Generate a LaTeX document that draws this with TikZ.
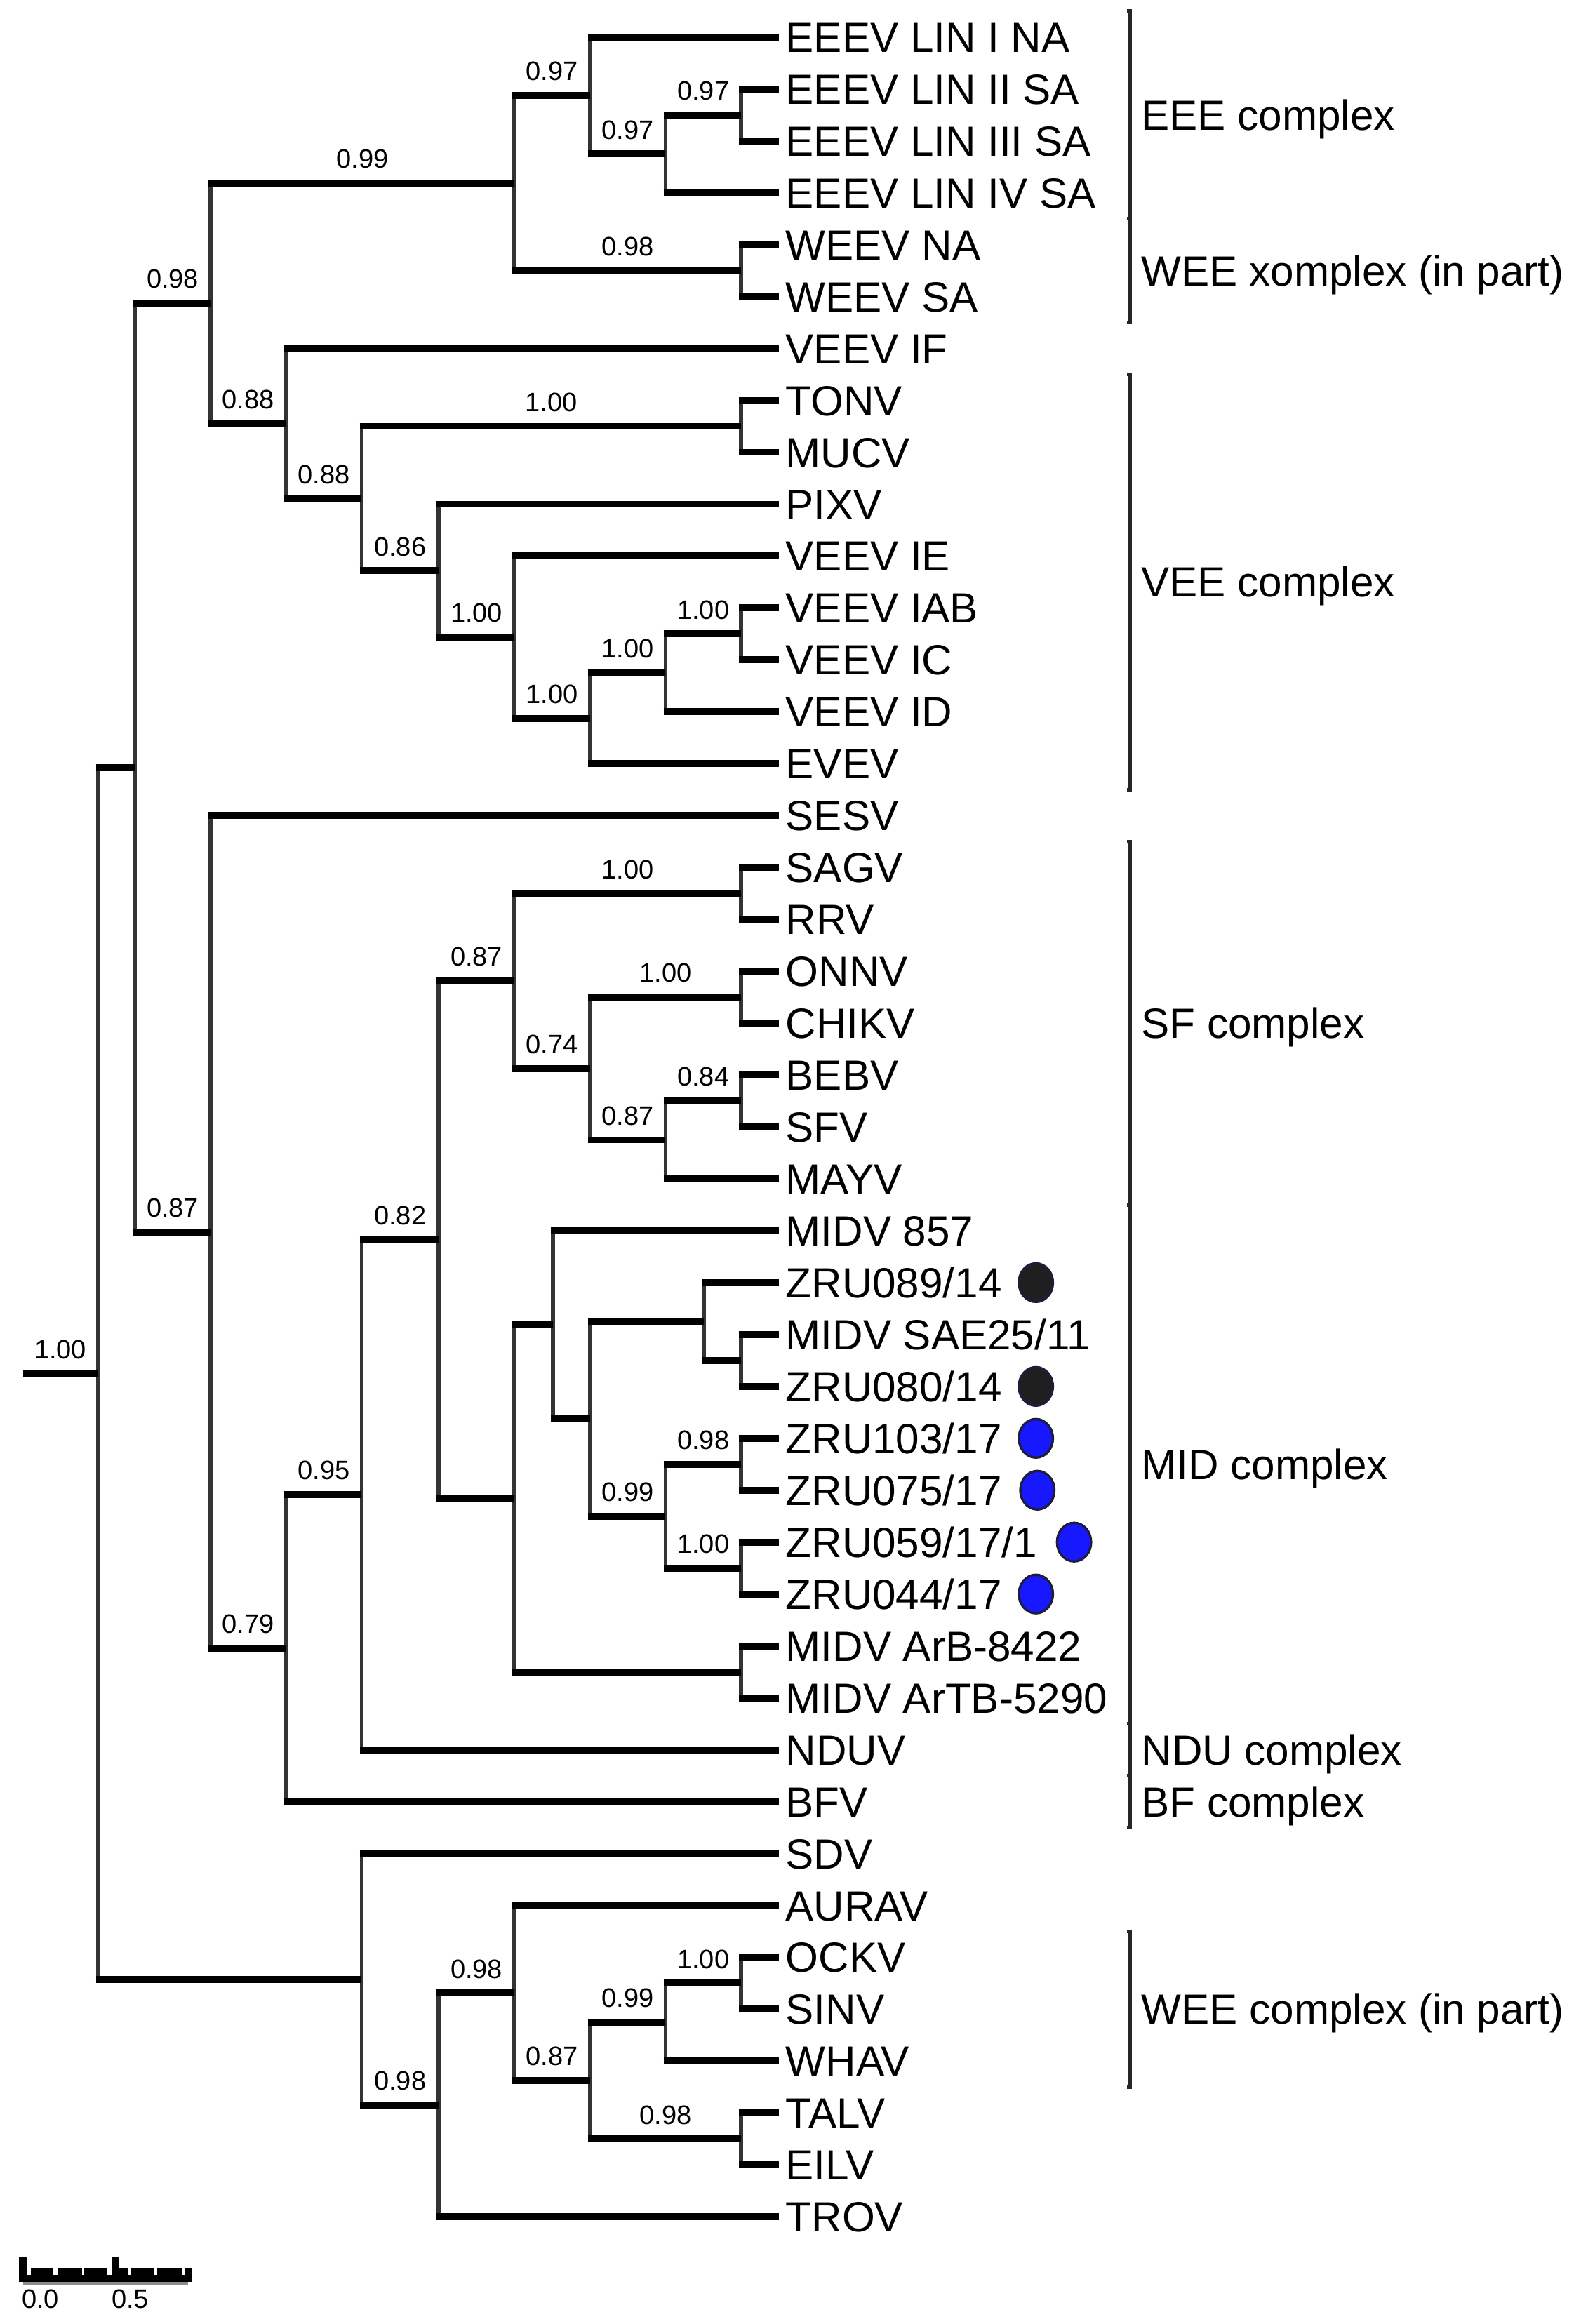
\documentclass[tikz,border=0pt]{standalone}
\usepackage{fontspec}
\setmainfont{Liberation Sans}
\usetikzlibrary{positioning,shapes.geometric}

\newcommand{\leaffont}{\fontsize{28.5}{30}\selectfont}
\newcommand{\suppfont}{\fontsize{18}{20}\selectfont}
\definecolor{dotblue}{RGB}{24,24,255}
\definecolor{dotrim}{RGB}{30,30,60}

\tikzset{
  hbr/.style={line width=4.7pt, shorten <=-1.3pt},
  vbr/.style={line width=2.6pt, black!80, shorten <=-2.35pt, shorten >=-2.35pt},
  leaf/.style={anchor=west, inner xsep=4.5pt, inner ysep=0pt, text height=20.4pt, text depth=0pt, font=\leaffont},
  cplx/.style={leaf},
  supp/.style={above=7.5pt, inner sep=0pt, font=\suppfont},
  brk/.style={line width=2.4pt, black!85},
  spot/.style={ellipse, draw=dotrim, line width=1.6pt, minimum width=23pt, minimum height=26pt, inner sep=0pt},
  blackspot/.style={spot, fill=black!88},
  bluespot/.style={spot, fill=dotblue}
}

\begin{document}
\begin{tikzpicture}[x=1pt, y=-35.02pt]
        \useasboundingbox (0pt,-10.02pt) rectangle (1066.3pt,-1578.2pt);

        % leaves
        \node[leaf] (EEEV1) at (525.5,1) {EEEV LIN I NA};
        \node[leaf] (EEEV2) at (525.5,2) {EEEV LIN II SA};
        \node[leaf] (EEEV3) at (525.5,3) {EEEV LIN III SA};
        \node[leaf] (EEEV4) at (525.5,4) {EEEV LIN IV SA};
        \node[leaf] (WEEVNA) at (525.5,5) {WEEV NA};
        \node[leaf] (WEEVSA) at (525.5,6) {WEEV SA};
        \node[leaf] (VEEVIF) at (525.5,7) {VEEV IF};
        \node[leaf] (TONV) at (525.5,8) {TONV};
        \node[leaf] (MUCV) at (525.5,9) {MUCV};
        \node[leaf] (PIXV) at (525.5,10) {PIXV};
        \node[leaf] (VEEVIE) at (525.5,11) {VEEV IE};
        \node[leaf] (VEEVIAB) at (525.5,12) {VEEV IAB};
        \node[leaf] (VEEVIC) at (525.5,13) {VEEV IC};
        \node[leaf] (VEEVID) at (525.5,14) {VEEV ID};
        \node[leaf] (EVEV) at (525.5,15) {EVEV};
        \node[leaf] (SESV) at (525.5,16) {SESV};
        \node[leaf] (SAGV) at (525.5,17) {SAGV};
        \node[leaf] (RRV) at (525.5,18) {RRV};
        \node[leaf] (ONNV) at (525.5,19) {ONNV};
        \node[leaf] (CHIKV) at (525.5,20) {CHIKV};
        \node[leaf] (BEBV) at (525.5,21) {BEBV};
        \node[leaf] (SFV) at (525.5,22) {SFV};
        \node[leaf] (MAYV) at (525.5,23) {MAYV};
        \node[leaf] (MIDV857) at (525.5,24) {MIDV 857};
        \node[leaf] (ZRU089) at (525.5,25) {ZRU089/14};
        \node[leaf] (MIDVSAE) at (525.5,26) {MIDV SAE25/11};
        \node[leaf] (ZRU080) at (525.5,27) {ZRU080/14};
        \node[leaf] (ZRU103) at (525.5,28) {ZRU103/17};
        \node[leaf] (ZRU075) at (525.5,29) {ZRU075/17};
        \node[leaf] (ZRU059) at (525.5,30) {ZRU059/17/1};
        \node[leaf] (ZRU044) at (525.5,31) {ZRU044/17};
        \node[leaf] (MIDVArB) at (525.5,32) {MIDV ArB-8422};
        \node[leaf] (MIDVArTB) at (525.5,33) {MIDV ArTB-5290};
        \node[leaf] (NDUV) at (525.5,34) {NDUV};
        \node[leaf] (BFV) at (525.5,35) {BFV};
        \node[leaf] (SDV) at (525.5,36) {SDV};
        \node[leaf] (AURAV) at (525.5,37) {AURAV};
        \node[leaf] (OCKV) at (525.5,38) {OCKV};
        \node[leaf] (SINV) at (525.5,39) {SINV};
        \node[leaf] (WHAV) at (525.5,40) {WHAV};
        \node[leaf] (TALV) at (525.5,41) {TALV};
        \node[leaf] (EILV) at (525.5,42) {EILV};
        \node[leaf] (TROV) at (525.5,43) {TROV};

        % sample markers
        \node[blackspot, right=6pt of ZRU089] (dZRU089) {};
        \node[blackspot, right=6pt of ZRU080] (dZRU080) {};
        \node[bluespot, right=6pt of ZRU103] (dZRU103) {};
        \node[bluespot, right=7pt of ZRU075] (dZRU075) {};
        \node[bluespot, right=8pt of ZRU059] (dZRU059) {};
        \node[bluespot, right=6pt of ZRU044] (dZRU044) {};

        % internal nodes
        \coordinate (nC23) at (500,2.5);
        \coordinate (nB) at (449,3.25);
        \coordinate (nA) at (398,2.125);
        \coordinate (nWE) at (500,5.5);
        \coordinate (nEW) at (347,3.8125);
        \coordinate (nTM) at (500,8.5);
        \coordinate (nIAB) at (500,12.5);
        \coordinate (nIDn) at (449,13.25);
        \coordinate (nEVn) at (398,14.125);
        \coordinate (nIEn) at (347,12.5625);
        \coordinate (nPIn) at (296,11.28125);
        \coordinate (nVEn) at (244,9.890625);
        \coordinate (nVIF) at (193,8.4453);
        \coordinate (nUp) at (142,6.1289);
        \coordinate (nSR) at (500,17.5);
        \coordinate (nOC) at (500,19.5);
        \coordinate (nBS) at (500,21.5);
        \coordinate (nMA) at (449,22.25);
        \coordinate (nU74) at (398,20.875);
        \coordinate (nSF) at (347,19.1875);
        \coordinate (nSAE) at (500,26.5);
        \coordinate (nZ) at (475,25.75);
        \coordinate (nR98) at (500,28.5);
        \coordinate (nR100) at (500,30.5);
        \coordinate (nR99) at (449,29.5);
        \coordinate (nY) at (398,27.625);
        \coordinate (nX) at (373,25.8125);
        \coordinate (nArB) at (500,32.5);
        \coordinate (nMID) at (347,29.15625);
        \coordinate (nS82) at (296,24.171875);
        \coordinate (nR95) at (244,29.0859);
        \coordinate (nQ79) at (193,32.043);
        \coordinate (nSES) at (142,24.0215);
        \coordinate (nTop) at (91,15.0752);
        \coordinate (nOS) at (500,38.5);
        \coordinate (nWH) at (449,39.25);
        \coordinate (nTE) at (500,41.5);
        \coordinate (nTA) at (398,40.375);
        \coordinate (nAU) at (347,38.6875);
        \coordinate (nTR) at (296,40.84375);
        \coordinate (nSD) at (244,38.421875);
        \coordinate (nRoot) at (66,26.7485);
        \coordinate (nStub) at (15.5,26.7485);

        % EEE / WEE
        \draw[vbr] (nC23 |- EEEV2) -- (nC23 |- EEEV3);
        \draw[hbr] (nC23 |- EEEV2) -- (EEEV2.west);
        \draw[hbr] (nC23 |- EEEV3) -- (EEEV3.west);
        \draw[vbr] (nB |- nC23) -- (nB |- EEEV4);
        \draw[hbr] (nB |- nC23) -- node[supp] (s03) {0.97} (nC23);
        \draw[hbr] (nB |- EEEV4) -- (EEEV4.west);
        \draw[vbr] (nA |- EEEV1) -- (nA |- nB);
        \draw[hbr] (nA |- EEEV1) -- (EEEV1.west);
        \draw[hbr] (nA |- nB) -- node[supp] (s02) {0.97} (nB);
        \draw[vbr] (nWE |- WEEVNA) -- (nWE |- WEEVSA);
        \draw[hbr] (nWE |- WEEVNA) -- (WEEVNA.west);
        \draw[hbr] (nWE |- WEEVSA) -- (WEEVSA.west);
        \draw[vbr] (nEW |- nA) -- (nEW |- nWE);
        \draw[hbr] (nEW |- nA) -- node[supp] (s01) {0.97} (nA);
        \draw[hbr] (nEW |- nWE) -- node[supp] (s04) {0.98} (nWE);

        % VEE
        \draw[vbr] (nTM |- TONV) -- (nTM |- MUCV);
        \draw[hbr] (nTM |- TONV) -- (TONV.west);
        \draw[hbr] (nTM |- MUCV) -- (MUCV.west);
        \draw[vbr] (nIAB |- VEEVIAB) -- (nIAB |- VEEVIC);
        \draw[hbr] (nIAB |- VEEVIAB) -- (VEEVIAB.west);
        \draw[hbr] (nIAB |- VEEVIC) -- (VEEVIC.west);
        \draw[vbr] (nIDn |- nIAB) -- (nIDn |- VEEVID);
        \draw[hbr] (nIDn |- nIAB) -- node[supp] (s14) {1.00} (nIAB);
        \draw[hbr] (nIDn |- VEEVID) -- (VEEVID.west);
        \draw[vbr] (nEVn |- nIDn) -- (nEVn |- EVEV);
        \draw[hbr] (nEVn |- nIDn) -- node[supp] (s13) {1.00} (nIDn);
        \draw[hbr] (nEVn |- EVEV) -- (EVEV.west);
        \draw[vbr] (nIEn |- VEEVIE) -- (nIEn |- nEVn);
        \draw[hbr] (nIEn |- VEEVIE) -- (VEEVIE.west);
        \draw[hbr] (nIEn |- nEVn) -- node[supp] (s12) {1.00} (nEVn);
        \draw[vbr] (nPIn |- PIXV) -- (nPIn |- nIEn);
        \draw[hbr] (nPIn |- PIXV) -- (PIXV.west);
        \draw[hbr] (nPIn |- nIEn) -- node[supp] (s11) {1.00} (nIEn);
        \draw[vbr] (nVEn |- nTM) -- (nVEn |- nPIn);
        \draw[hbr] (nVEn |- nTM) -- node[supp] (s09) {1.00} (nTM);
        \draw[hbr] (nVEn |- nPIn) -- node[supp] (s10) {0.86} (nPIn);
        \draw[vbr] (nVIF |- VEEVIF) -- (nVIF |- nVEn);
        \draw[hbr] (nVIF |- VEEVIF) -- (VEEVIF.west);
        \draw[hbr] (nVIF |- nVEn) -- node[supp] (s08) {0.88} (nVEn);
        \draw[vbr] (nUp |- nEW) -- (nUp |- nVIF);
        \draw[hbr] (nUp |- nEW) -- node[supp] (s05) {0.99} (nEW);
        \draw[hbr] (nUp |- nVIF) -- node[supp] (s07) {0.88} (nVIF);

        % SF
        \draw[vbr] (nSR |- SAGV) -- (nSR |- RRV);
        \draw[hbr] (nSR |- SAGV) -- (SAGV.west);
        \draw[hbr] (nSR |- RRV) -- (RRV.west);
        \draw[vbr] (nOC |- ONNV) -- (nOC |- CHIKV);
        \draw[hbr] (nOC |- ONNV) -- (ONNV.west);
        \draw[hbr] (nOC |- CHIKV) -- (CHIKV.west);
        \draw[vbr] (nBS |- BEBV) -- (nBS |- SFV);
        \draw[hbr] (nBS |- BEBV) -- (BEBV.west);
        \draw[hbr] (nBS |- SFV) -- (SFV.west);
        \draw[vbr] (nMA |- nBS) -- (nMA |- MAYV);
        \draw[hbr] (nMA |- nBS) -- node[supp] (s25) {0.84} (nBS);
        \draw[hbr] (nMA |- MAYV) -- (MAYV.west);
        \draw[vbr] (nU74 |- nOC) -- (nU74 |- nMA);
        \draw[hbr] (nU74 |- nOC) -- node[supp] (s23) {1.00} (nOC);
        \draw[hbr] (nU74 |- nMA) -- node[supp] (s24) {0.87} (nMA);
        \draw[vbr] (nSF |- nSR) -- (nSF |- nU74);
        \draw[hbr] (nSF |- nSR) -- node[supp] (s21) {1.00} (nSR);
        \draw[hbr] (nSF |- nU74) -- node[supp] (s22) {0.74} (nU74);

        % MID
        \draw[vbr] (nSAE |- MIDVSAE) -- (nSAE |- ZRU080);
        \draw[hbr] (nSAE |- MIDVSAE) -- (MIDVSAE.west);
        \draw[hbr] (nSAE |- ZRU080) -- (ZRU080.west);
        \draw[vbr] (nZ |- ZRU089) -- (nZ |- nSAE);
        \draw[hbr] (nZ |- ZRU089) -- (ZRU089.west);
        \draw[hbr] (nZ |- nSAE) -- (nSAE);
        \draw[vbr] (nR98 |- ZRU103) -- (nR98 |- ZRU075);
        \draw[hbr] (nR98 |- ZRU103) -- (ZRU103.west);
        \draw[hbr] (nR98 |- ZRU075) -- (ZRU075.west);
        \draw[vbr] (nR100 |- ZRU059) -- (nR100 |- ZRU044);
        \draw[hbr] (nR100 |- ZRU059) -- (ZRU059.west);
        \draw[hbr] (nR100 |- ZRU044) -- (ZRU044.west);
        \draw[vbr] (nR99 |- nR98) -- (nR99 |- nR100);
        \draw[hbr] (nR99 |- nR98) -- node[supp] (s28) {0.98} (nR98);
        \draw[hbr] (nR99 |- nR100) -- node[supp] (s29) {1.00} (nR100);
        \draw[vbr] (nY |- nZ) -- (nY |- nR99);
        \draw[hbr] (nY |- nZ) -- (nZ);
        \draw[hbr] (nY |- nR99) -- node[supp] (s27) {0.99} (nR99);
        \draw[vbr] (nX |- MIDV857) -- (nX |- nY);
        \draw[hbr] (nX |- MIDV857) -- (MIDV857.west);
        \draw[hbr] (nX |- nY) -- (nY);
        \draw[vbr] (nArB |- MIDVArB) -- (nArB |- MIDVArTB);
        \draw[hbr] (nArB |- MIDVArB) -- (MIDVArB.west);
        \draw[hbr] (nArB |- MIDVArTB) -- (MIDVArTB.west);
        \draw[vbr] (nMID |- nX) -- (nMID |- nArB);
        \draw[hbr] (nMID |- nX) -- (nX);
        \draw[hbr] (nMID |- nArB) -- (nArB);

        % SF + MID, NDU, BF, SESV
        \draw[vbr] (nS82 |- nSF) -- (nS82 |- nMID);
        \draw[hbr] (nS82 |- nSF) -- node[supp] (s20) {0.87} (nSF);
        \draw[hbr] (nS82 |- nMID) -- (nMID);
        \draw[vbr] (nR95 |- nS82) -- (nR95 |- NDUV);
        \draw[hbr] (nR95 |- nS82) -- node[supp] (s19) {0.82} (nS82);
        \draw[hbr] (nR95 |- NDUV) -- (NDUV.west);
        \draw[vbr] (nQ79 |- nR95) -- (nQ79 |- BFV);
        \draw[hbr] (nQ79 |- nR95) -- node[supp] (s18) {0.95} (nR95);
        \draw[hbr] (nQ79 |- BFV) -- (BFV.west);
        \draw[vbr] (nSES |- SESV) -- (nSES |- nQ79);
        \draw[hbr] (nSES |- SESV) -- (SESV.west);
        \draw[hbr] (nSES |- nQ79) -- node[supp] (s17) {0.79} (nQ79);
        \draw[vbr] (nTop |- nUp) -- (nTop |- nSES);
        \draw[hbr] (nTop |- nUp) -- node[supp] (s06) {0.98} (nUp);
        \draw[hbr] (nTop |- nSES) -- node[supp] (s16) {0.87} (nSES);

        % WEE (in part)
        \draw[vbr] (nOS |- OCKV) -- (nOS |- SINV);
        \draw[hbr] (nOS |- OCKV) -- (OCKV.west);
        \draw[hbr] (nOS |- SINV) -- (SINV.west);
        \draw[vbr] (nWH |- nOS) -- (nWH |- WHAV);
        \draw[hbr] (nWH |- nOS) -- node[supp] (s35) {1.00} (nOS);
        \draw[hbr] (nWH |- WHAV) -- (WHAV.west);
        \draw[vbr] (nTE |- TALV) -- (nTE |- EILV);
        \draw[hbr] (nTE |- TALV) -- (TALV.west);
        \draw[hbr] (nTE |- EILV) -- (EILV.west);
        \draw[vbr] (nTA |- nWH) -- (nTA |- nTE);
        \draw[hbr] (nTA |- nWH) -- node[supp] (s34) {0.99} (nWH);
        \draw[hbr] (nTA |- nTE) -- node[supp] (s36) {0.98} (nTE);
        \draw[vbr] (nAU |- AURAV) -- (nAU |- nTA);
        \draw[hbr] (nAU |- AURAV) -- (AURAV.west);
        \draw[hbr] (nAU |- nTA) -- node[supp] (s33) {0.87} (nTA);
        \draw[vbr] (nTR |- nAU) -- (nTR |- TROV);
        \draw[hbr] (nTR |- nAU) -- node[supp] (s32) {0.98} (nAU);
        \draw[hbr] (nTR |- TROV) -- (TROV.west);
        \draw[vbr] (nSD |- SDV) -- (nSD |- nTR);
        \draw[hbr] (nSD |- SDV) -- (SDV.west);
        \draw[hbr] (nSD |- nTR) -- node[supp] (s31) {0.98} (nTR);

        % root
        \draw[vbr] (nRoot |- nTop) -- (nRoot |- nSD);
        \draw[hbr] (nRoot |- nTop) -- (nTop);
        \draw[hbr] (nRoot |- nSD) -- (nSD);
        \draw[hbr, shorten <=0pt] (nStub) -- node[supp] (s00) {1.00} (nRoot);

        % complexes
        \draw[brk] (760.5,0.5) -- (762.7,0.5) -- (762.7,4.5) -- (760.5,4.5);
        \draw[brk] (760.5,4.5) -- (762.7,4.5) -- (762.7,6.5) -- (760.5,6.5);
        \draw[brk] (760.5,7.5) -- (762.7,7.5) -- (762.7,15.5) -- (760.5,15.5);
        \draw[brk] (760.5,16.5) -- (762.7,16.5) -- (762.7,23.5) -- (760.5,23.5);
        \draw[brk] (760.5,23.5) -- (762.7,23.5) -- (762.7,33.5) -- (760.5,33.5);
        \draw[brk] (760.5,33.5) -- (762.7,33.5) -- (762.7,34.5) -- (760.5,34.5);
        \draw[brk] (760.5,34.5) -- (762.7,34.5) -- (762.7,35.5) -- (760.5,35.5);
        \draw[brk] (760.5,37.5) -- (762.7,37.5) -- (762.7,40.5) -- (760.5,40.5);
        \node[cplx] (cEEE) at (765.5,2.5) {EEE complex};
        \node[cplx] (cWEEa) at (765.5,5.5) {WEE xomplex (in part)};
        \node[cplx] (cVEE) at (765.5,11.5) {VEE complex};
        \node[cplx] (cSF) at (765.5,20) {SF complex};
        \node[cplx] (cMID) at (765.5,28.5) {MID complex};
        \node[cplx] (cNDU) at (765.5,34) {NDU complex};
        \node[cplx] (cBF) at (765.5,35) {BF complex};
        \node[cplx] (cWEEb) at (765.5,39) {WEE complex (in part)};

        % scale bar
        \fill[black!45] (15.6pt,-1549.6pt) rectangle (126.8pt,-1552.3pt);
        \fill (13pt,-1540.2pt) rectangle (129.5pt,-1549.6pt);
        \fill[white] (18.6pt,-1540.2pt) rectangle (20.8pt,-1545.2pt);
        \fill[white] (36.2pt,-1540.2pt) rectangle (38.9pt,-1545.2pt);
        \fill[white] (55.2pt,-1540.2pt) rectangle (57pt,-1545.2pt);
        \fill[white] (72.6pt,-1540.2pt) rectangle (75.1pt,-1545.2pt);
        \fill[white] (86pt,-1540.2pt) rectangle (88.7pt,-1545.2pt);
        \fill[white] (104pt,-1540.2pt) rectangle (105.9pt,-1545.2pt);
        \fill[white] (123pt,-1540.2pt) rectangle (125pt,-1545.2pt);
        \fill (13pt,-1532.7pt) rectangle (18.1pt,-1549.6pt);
        \fill (75.2pt,-1532.7pt) rectangle (80.3pt,-1549.6pt);
        \node[anchor=west, inner sep=0pt, text height=12.9pt, text depth=0pt, font=\suppfont] (sb0) at (14.6pt,-1561pt) {0.0};
        \node[anchor=west, inner sep=0pt, text height=12.9pt, text depth=0pt, font=\suppfont] (sb5) at (75.2pt,-1561pt) {0.5};
    \end{tikzpicture}
\end{document}
